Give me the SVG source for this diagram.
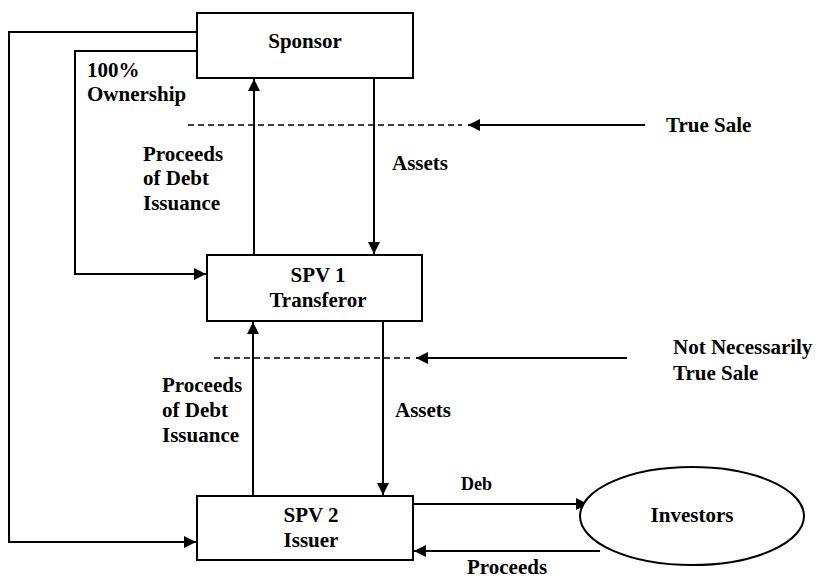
<svg xmlns="http://www.w3.org/2000/svg" width="820" height="583" viewBox="0 0 820 583">
<defs>
<style>
.box{fill:#fff;stroke:#000;stroke-width:2}
.ln{fill:none;stroke:#000;stroke-width:2}
.dash{fill:none;stroke:#000;stroke-width:1.6;stroke-dasharray:6 4}
text{font-family:"Liberation Serif","Times New Roman",serif;font-weight:bold;font-size:21px;fill:#000}
text.sm{font-size:18px}
.c{text-anchor:middle}
</style>
<marker id="ahs" viewBox="0 0 10 10" refX="10" refY="5" markerWidth="12" markerHeight="12" orient="auto" markerUnits="userSpaceOnUse">
<path d="M0,0 L10,5 L0,10 z" fill="#000"/>
</marker>
</defs>
<rect width="820" height="583" fill="#fff"/>
<g id="connectors">
<polyline class="ln" points="197,32 9,32 9,542 196,542" marker-end="url(#ahs)"/>
<polyline class="ln" points="197,51 75,51 75,274 206,274" marker-end="url(#ahs)"/>
<line class="ln" x1="254" y1="255" x2="254" y2="79" marker-end="url(#ahs)"/>
<line class="ln" x1="374" y1="78" x2="374" y2="254" marker-end="url(#ahs)"/>
<line class="ln" x1="253" y1="496" x2="253" y2="322" marker-end="url(#ahs)"/>
<line class="ln" x1="383" y1="321" x2="383" y2="495" marker-end="url(#ahs)"/>
<line class="ln" x1="413" y1="504" x2="588" y2="504" marker-end="url(#ahs)"/>
<line class="ln" x1="600" y1="551" x2="414" y2="551" marker-end="url(#ahs)"/>
<line class="dash" x1="188" y1="125" x2="462" y2="125"/>
<line class="ln" x1="645" y1="125" x2="468" y2="125" marker-end="url(#ahs)"/>
<line class="dash" x1="214" y1="358" x2="410" y2="358"/>
<line class="ln" x1="627" y1="358" x2="416" y2="358" marker-end="url(#ahs)"/>
</g>
<g id="sponsor">
<rect class="box" x="197" y="13" width="216" height="65"/>
<text class="c" x="305" y="48">Sponsor</text>
</g>
<g id="spv1">
<rect class="box" x="207" y="255" width="215" height="66"/>
<text class="c" x="318" y="282">SPV 1</text>
<text class="c" x="318" y="307">Transferor</text>
</g>
<g id="spv2">
<rect class="box" x="197" y="496" width="216" height="64"/>
<text class="c" x="311" y="522">SPV 2</text>
<text class="c" x="311" y="547">Issuer</text>
</g>
<g id="investors">
<ellipse cx="692" cy="516" rx="112" ry="49" fill="#fff" stroke="#000" stroke-width="2"/>
<text class="c" x="692" y="522">Investors</text>
</g>
<g id="labels">
<text x="87" y="77">100%</text>
<text x="87" y="101">Ownership</text>
<text x="143" y="161">Proceeds</text>
<text x="143" y="185">of Debt</text>
<text x="143" y="210">Issuance</text>
<text x="392" y="170">Assets</text>
<text x="666" y="132">True Sale</text>
<text x="673" y="354">Not Necessarily</text>
<text x="673" y="380">True Sale</text>
<text x="162" y="392">Proceeds</text>
<text x="162" y="417">of Debt</text>
<text x="162" y="442">Issuance</text>
<text x="395" y="417">Assets</text>
<text class="sm" x="461" y="490">Deb</text>
<text x="467" y="574">Proceeds</text>
</g>
</svg>
